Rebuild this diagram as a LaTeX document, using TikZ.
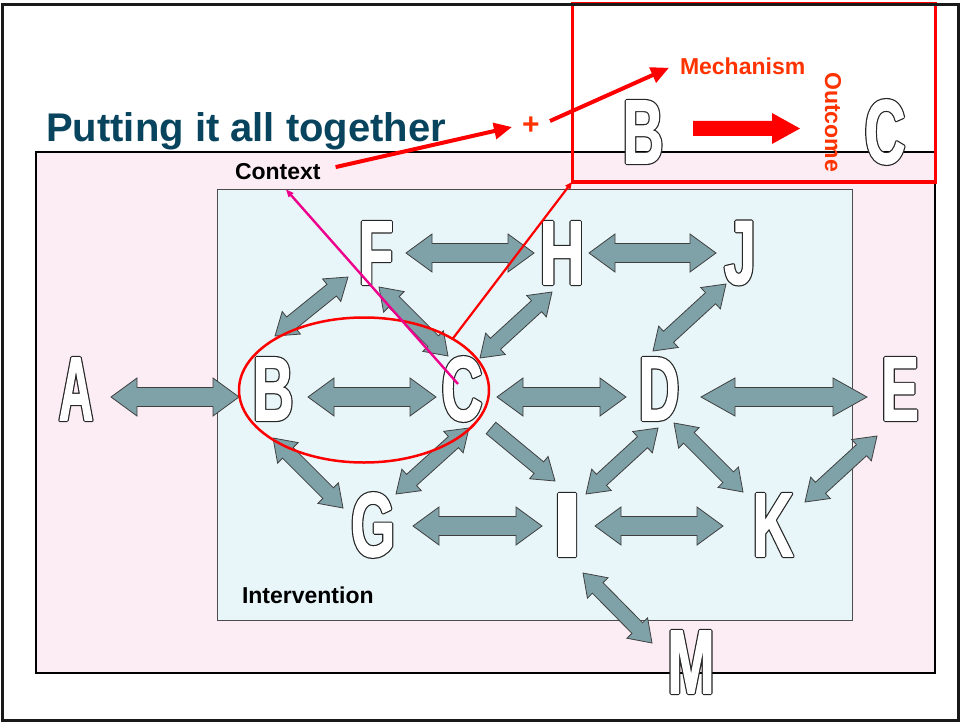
\documentclass[tikz,border=0pt]{standalone}
\usepackage{fontspec}
\setmainfont{Liberation Sans}
\newfontfamily\LFa{Liberation Sans}[FakeStretch=0.52]
\newfontfamily\LFb{Liberation Sans}[FakeStretch=0.62]
\newfontfamily\LFh{Liberation Sans}[FakeStretch=0.68]
\newfontfamily\LFi{Liberation Sans}[FakeStretch=1.28]
\usetikzlibrary{calc,arrows.meta,shapes.geometric}
\definecolor{titleblue}{RGB}{8,68,94}
\definecolor{arrgray}{RGB}{127,161,168}
\definecolor{pinkbg}{RGB}{252,237,244}
\definecolor{bluebg}{RGB}{233,246,249}
\definecolor{mechred}{RGB}{255,51,0}
\tikzset{
  letter/.style={inner sep=0pt, outer sep=0pt},
  blockarrow/.style={fill=arrgray, draw=black!75, line width=0.8pt, line join=miter},
  redblock/.style={fill=red, draw=none},
  lbl/.style={font=\bfseries\fontsize{23}{23}\selectfont, inner sep=0pt, outer sep=0pt},
  thickred/.style={red, line width=4pt, -{Triangle[length=18pt,width=16pt]}},
}
\def\sw{9.5pt}\def\hw{19pt}\def\hl{26pt}
% double-headed block arrow between (node1)+(off1) and (node2)+(off2)
\newcommand\DArr[4]{%
  \path ($(#1)+(#2)$) coordinate (ap) ($(#3)+(#4)$) coordinate (aq);
  \filldraw[blockarrow] (ap)
   -- ($(ap)!\hl!(aq)!\hw!-90:(aq)$)
   -- ($(ap)!\hl!(aq)!\sw!-90:(aq)$)
   -- ($(aq)!\hl!(ap)!\sw!90:(ap)$)
   -- ($(aq)!\hl!(ap)!\hw!90:(ap)$)
   -- (aq)
   -- ($(aq)!\hl!(ap)!\hw!-90:(ap)$)
   -- ($(aq)!\hl!(ap)!\sw!-90:(ap)$)
   -- ($(ap)!\hl!(aq)!\sw!90:(aq)$)
   -- ($(ap)!\hl!(aq)!\hw!90:(aq)$)
   -- cycle;}
% single-headed block arrow, tail at first, tip at second
\newcommand\SArr[5]{%
  \path ($(#2)+(#3)$) coordinate (ap) ($(#4)+(#5)$) coordinate (aq);
  \filldraw[#1] ($(ap)!\sw!90:(aq)$)
   -- ($(ap)!\sw!-90:(aq)$)
   -- ($(aq)!\hl!(ap)!\sw!90:(ap)$)
   -- ($(aq)!\hl!(ap)!\hw!90:(ap)$)
   -- (aq)
   -- ($(aq)!\hl!(ap)!\hw!-90:(ap)$)
   -- ($(aq)!\hl!(ap)!\sw!-90:(ap)$)
   -- cycle;}
% outlined, emboldened condensed letter (text render mode: fill + stroke)
\newcommand\stroked[3]{\color{#1}\special{pdf:literal direct 2 Tr #2 w 1 j}#3\special{pdf:literal direct 0 Tr}}
\newcommand\Letter[4]{%
  \node[letter] at (#2) {#3\bfseries\fontsize{91}{91}\selectfont\stroked{black!85}{3.6}{#4}};
  \node[letter] (#1) at (#2) {#3\bfseries\fontsize{91}{91}\selectfont\stroked{white}{1.2}{#4}};}
\begin{document}
\begin{tikzpicture}[x=1pt,y=-1pt]
\useasboundingbox (0,0) rectangle (960,722);
\fill[white] (0,0) rectangle (960,722);
% context and intervention areas
\node[draw=black, line width=1.2pt, fill=pinkbg, anchor=north west, minimum width=899pt, minimum height=521pt, inner sep=0pt, outer sep=0pt] (ctxbox) at (36,152) {};
\node[draw=black!70, line width=1pt, fill=bluebg, anchor=north west, minimum width=635pt, minimum height=431pt, inner sep=0pt, outer sep=0pt] (intbox) at (217,189) {};
% title and labels
\node[anchor=base west, text=titleblue, font=\bfseries\fontsize{40}{40}\selectfont, inner sep=0pt] (title) at (46,142) {Putting it all together};
\node[lbl, anchor=base west] (ctx) at (235,179) {Context};
\node[lbl, anchor=base west] (intv) at (242,603) {Intervention};
\node[lbl, anchor=base west, text=mechred] (mech) at (680,75) {Mechanism};
\node[lbl, text=mechred, rotate=-90] (outc) at (833,122) {Outcome};
\node[text=mechred, font=\bfseries\fontsize{30}{30}\selectfont, inner sep=0pt] (plus) at (531,126) {+};
% CMO box
\node[draw=red, line width=3pt, anchor=north west, minimum width=363pt, minimum height=178pt, inner sep=0pt, outer sep=0pt] (cmo) at (572,4) {};
% letters
\Letter{A}{76,389}{\LFa}{A}
\Letter{B}{273,389}{\LFb}{B}
\Letter{C}{462,389}{\LFb}{C}
\Letter{D}{659,389}{\LFb}{D}
\Letter{E}{900,389}{\LFb}{E}
\Letter{F}{376,253}{\LFb}{F}
\Letter{H}{562,253}{\LFh}{H}
\Letter{J}{740,253}{\LFb}{J}
\Letter{G}{373,525}{\LFb}{G}
\Letter{I}{567,525}{\LFi}{I}
\Letter{K}{773,525}{\LFb}{K}
\Letter{M}{691,662}{\LFb}{M}
\Letter{TB}{643,132}{\LFb}{B}
\Letter{TC}{885,132}{\LFb}{C}
% horizontal block arrows
\DArr{A}{35,8}{B}{-34,8}
\DArr{B}{35,8}{C}{-26,8}
\DArr{C}{35,8}{D}{-33,8}
{\def\hl{34pt}\DArr{D}{42,8}{E}{-33,8}}
\DArr{F}{30,0}{H}{-28,0}
\DArr{H}{27,0}{J}{-24,0}
\DArr{G}{40,1}{I}{-25,1}
\DArr{I}{28,1}{K}{-50,1}
% diagonal block arrows
{\def\sw{7.5pt}\def\hw{14.5pt}\def\hl{21pt}
\DArr{B}{2,-53}{F}{-28,24}
\DArr{F}{3,34}{C}{-14,-33}
\DArr{C}{18,-31}{H}{-10,39}
\DArr{J}{-14,31}{D}{-6,-38}
\DArr{B}{0,49}{G}{-30,-17}
\DArr{C}{7,39}{G}{23,-31}
\SArr{blockarrow}{C}{29,39}{I}{-12,-44}
\DArr{D}{-1,39}{I}{19,-31}
\DArr{D}{15,34}{K}{-30,-33}
\DArr{E}{-23,47}{K}{32,-23}
\DArr{I}{16,48}{M}{-39,-19}
}
% mechanism to outcome arrow
{\def\sw{7.5pt}\def\hw{15.5pt}\def\hl{28pt}
\SArr{redblock}{TB}{50,-3.5}{TC}{-85,-3.5}}
% ellipse around B and C
\node[draw=red, line width=2.5pt, ellipse, minimum width=250pt, minimum height=145pt, inner sep=0pt, outer sep=0pt] (bc) at (364,390) {};
% connectors
\draw[red, line width=2.2pt, -{Triangle[length=7pt,width=6pt]}] (bc.30) -- (cmo.south west);
\draw[magenta, line width=2.4pt, -{Triangle[length=8pt,width=6pt]}] ($(C)+(-4,-5)$) -- ($(ctx.south)+(8,10)$);
\draw[thickred] ($(ctx.east)+(15,-4)$) -- ($(plus)+(-19,1)$);
\draw[thickred] ($(plus)+(19,-5)$) -- ($(mech.west)+(-11,1)$);
% outer frame
\draw[line width=3pt, black!90] (2.5,4.5) rectangle (958.5,720.5);
\end{tikzpicture}
\end{document}
